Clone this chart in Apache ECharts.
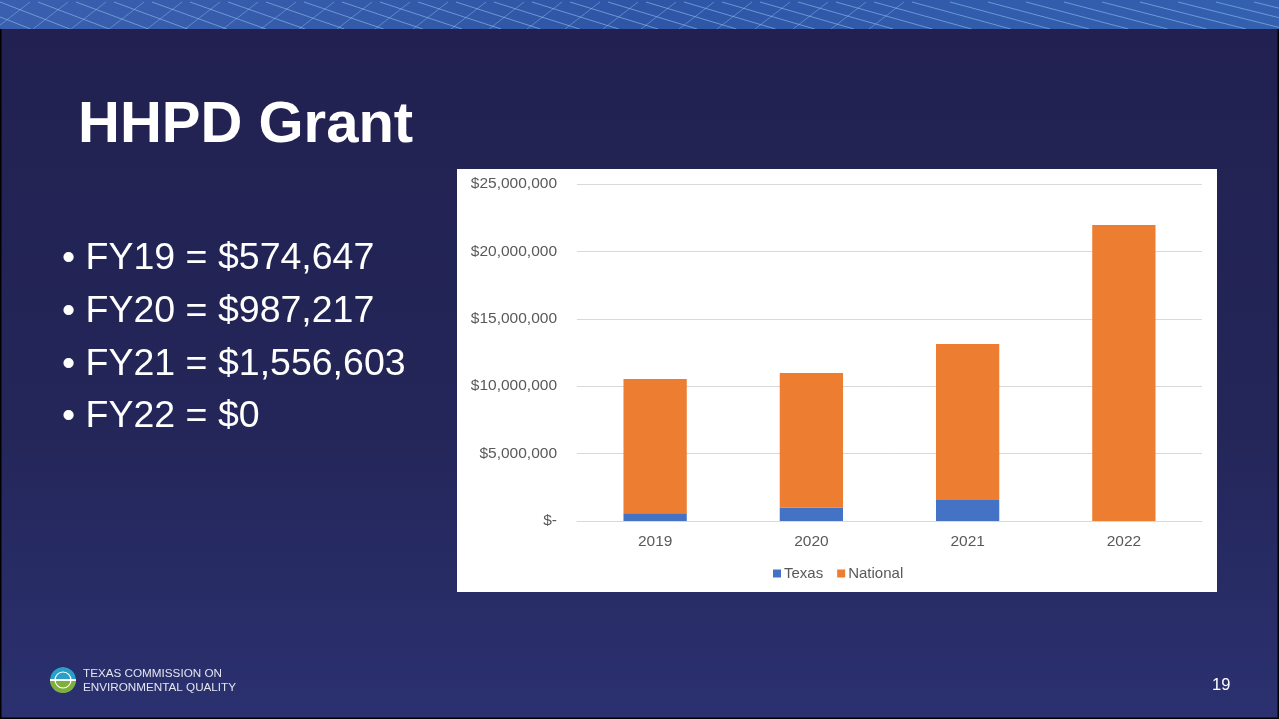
<!DOCTYPE html>
<html>
<head>
<meta charset="utf-8">
<script src="https://cdn.jsdelivr.net/npm/echarts@6/dist/echarts.min.js"></script>
<style>
html,body{margin:0;padding:0;width:1279px;height:719px;overflow:hidden;background:#22214f;}
#c{width:1279px;height:719px;}
</style>
</head>
<body>
<div id="c"></div>
<script>
const categories = ['2019', '2020', '2021', '2022'];
const texas = [574647, 987217, 1556603, 0];
const national = [9960000, 10000000, 11580000, 21960000];
const yTicks = [0, 5000000, 10000000, 15000000, 20000000, 25000000];
const bullets = ['• FY19 = $574,647', '• FY20 = $987,217', '• FY21 = $1,556,603', '• FY22 = $0'];

const chart = echarts.init(document.getElementById('c'));

function money(v) {
  if (v === 0) return '$-';
  return '$' + v.toLocaleString('en-US');
}

// decorative banner lines
const bannerLines = [];
for (let i = -5; i < 40; i++) {
  const x = i * 38;
  bannerLines.push({
    type: 'line', silent: true,
    shape: {x1: x, y1: 2, x2: x + 70 + i * 1.2, y2: 29},
    style: {stroke: 'rgba(140,195,240,0.6)', lineWidth: 1}
  });
  if (i < 24) {
    bannerLines.push({
      type: 'line', silent: true,
      shape: {x1: x + 30, y1: 2, x2: x - 5, y2: 29},
      style: {stroke: 'rgba(140,195,240,0.45)', lineWidth: 1}
    });
  }
}

const graphics = [
  {type: 'rect', silent: true, z: -10,
   shape: {x: 0, y: 0, width: 1279, height: 719},
   style: {fill: new echarts.graphic.LinearGradient(0, 0, 0, 1, [
     {offset: 0, color: '#212050'}, {offset: 0.6, color: '#242659'}, {offset: 1, color: '#2b3170'}
   ])}},
  {type: 'group', silent: true, z: -9,
   clipPath: {type: 'rect', shape: {x: 0, y: 0, width: 1279, height: 29}},
   children: [
     {type: 'rect', shape: {x: 0, y: 0, width: 1279, height: 29},
      style: {fill: new echarts.graphic.LinearGradient(0, 0, 1, 0, [
        {offset: 0, color: '#3a5fae'}, {offset: 0.5, color: '#2f56a6'}, {offset: 1, color: '#3460b0'}
      ])}}
   ].concat(bannerLines)},
  {type: 'rect', silent: true, z: -8,
   shape: {x: 0.5, y: 0.5, width: 1278, height: 718},
   style: {fill: 'none', stroke: '#000', lineWidth: 2}},
  {type: 'text', silent: true, left: 78, top: 97,
   style: {text: 'HHPD Grant', fill: '#ffffff', font: 'bold 58px "Liberation Sans", Arial, sans-serif'}},
  {type: 'rect', silent: true, z: -5,
   shape: {x: 457, y: 169, width: 760, height: 423},
   style: {fill: '#ffffff'}},
  {type: 'text', silent: true, left: 1212, top: 677,
   style: {text: '19', fill: '#ffffff', font: '16.5px "Liberation Sans", Arial, sans-serif'}},
  {type: 'text', silent: true, left: 83, top: 667,
   style: {text: 'TEXAS COMMISSION ON\nENVIRONMENTAL QUALITY', fill: '#e4e6ef', lineHeight: 14,
           font: '11.7px "Liberation Sans", Arial, sans-serif'}},
  {type: 'group', silent: true, x: 63, y: 680,
   clipPath: {type: 'circle', shape: {cx: 0, cy: 0, r: 13}},
   children: [
     {type: 'circle', shape: {cx: 0, cy: 0, r: 13}, style: {fill: '#2aa0c9'}},
     {type: 'rect', shape: {x: -13, y: 1, width: 26, height: 13}, style: {fill: '#7fb03c'}},
     {type: 'rect', shape: {x: -13, y: -1, width: 26, height: 2}, style: {fill: '#ffffff'}},
     {type: 'circle', shape: {cx: 0, cy: 0, r: 8}, style: {fill: 'none', stroke: '#ffffff', lineWidth: 1.2}}
   ]}
];
bullets.forEach((b, i) => {
  graphics.push({type: 'text', silent: true, left: 62, top: 240 + i * 52.7,
    style: {text: b, fill: '#ffffff', font: '37.5px "Liberation Sans", Arial, sans-serif'}});
});

chart.setOption({
  animation: false,
  textStyle: {fontFamily: '"Liberation Sans", Arial, sans-serif'},
  graphic: graphics,
  grid: {left: 577, right: 77, top: 184, bottom: 198, containLabel: false},
  legend: {
    data: ['Texas', 'National'],
    left: 768, top: 561,
    itemWidth: 8, itemHeight: 8, itemGap: 14,
    icon: 'rect',
    textStyle: {color: '#595959', fontSize: 15, padding: [0, 0, 0, -2]}
  },
  xAxis: {
    type: 'category', data: categories,
    axisLine: {lineStyle: {color: '#d9d9d9', width: 1}},
    axisTick: {show: false},
    axisLabel: {color: '#595959', fontSize: 15.5, margin: 13}
  },
  yAxis: {
    type: 'value', min: 0, max: 25000000, interval: 5000000,
    axisLine: {show: false}, axisTick: {show: false},
    splitLine: {lineStyle: {color: '#d9d9d9', width: 1}},
    axisLabel: {color: '#595959', fontSize: 15.5, margin: 20, formatter: money}
  },
  series: [
    {name: 'Texas', type: 'bar', stack: 'a', data: texas, barWidth: '40.5%',
     itemStyle: {color: '#4472c4'}},
    {name: 'National', type: 'bar', stack: 'a', data: national, barWidth: '40.5%',
     itemStyle: {color: '#ed7d31'}}
  ]
});
</script>
</body>
</html>
